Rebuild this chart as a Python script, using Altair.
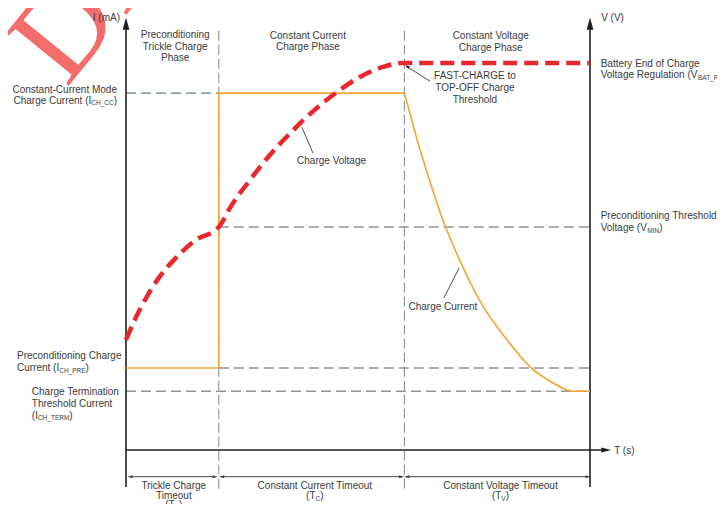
import altair as alt
import pandas as pd

# ---------------- data (abstract units: time 0..100, level 0..112) ----------------
# phase boundaries (time)
phase_t = [20, 60]
# characteristic levels
I_CC, V_BAT, V_MIN, I_PRE, I_TERM = 92.3, 100.1, 57.7, 21.2, 15.2

# charge current (step part)
cur_step_t = [0, 20, 20, 60]
cur_step_v = [I_PRE, I_PRE, I_CC, I_CC]
# charge current (constant voltage decay)
cur_dec_t = [60, 61.2, 62.9, 65.1, 68.3, 72.0, 76.3, 82.1, 87.1, 92.0, 96.3, 100]
cur_dec_v = [92.3, 87.1, 79.6, 71.0, 59.5, 48.9, 38.5, 28.5, 21.5, 17.4, 15.2, 15.2]
# charge voltage
volt_t = [0, 1.94, 4.5, 7.3, 10.6, 14.9, 20, 22.8, 26.7, 31.0, 35.6, 40.1,
          45.5, 50.4, 55.4, 59.5, 100]
volt_v = [28.5, 33.8, 39.7, 44.9, 49.5, 54.2, 57.7, 63.4, 69.8, 76.3, 82.2, 87.4,
          92.6, 96.5, 99.1, 100.1, 100.1]

# dashed reference levels
ref_y = [I_CC, V_MIN, I_PRE, I_TERM]
ref_x1 = [0, 20, 20, 0]
ref_x2 = [20, 100, 100, 100]
ref_col = ["#8fa2ae", "#8f9398", "#8f9398", "#8f9398"]

# ---------------- layout constants ----------------
KX = 4.64     # px per time unit
KY = 433 / 112  # px per level unit
FONT = "Liberation Sans"
TXT = "#3a3a3a"
BLACK = "#231f20"

AW = {' ': 278, '(': 333, ')': 333, '_': 556, '-': 333,
      'A': 667, 'B': 667, 'C': 722, 'D': 722, 'E': 667, 'F': 611, 'G': 778, 'H': 722,
      'I': 278, 'K': 667, 'L': 556, 'M': 833, 'N': 722, 'O': 778, 'P': 667, 'R': 722,
      'S': 667, 'T': 611, 'V': 667, 'a': 556, 'b': 556, 'c': 500, 'd': 556, 'e': 556,
      'f': 278, 'g': 556, 'h': 556, 'i': 222, 'l': 222, 'm': 833, 'n': 556, 'o': 556,
      'r': 333, 's': 500, 't': 278, 'u': 556, 'v': 500, 'y': 500, 'k': 500}


def tw(s, size):
    return sum(AW.get(c, 556) for c in s) * size / 1000.0


X = alt.Scale(domain=[0, 100], nice=False, zero=False)
Y = alt.Scale(domain=[0, 112], nice=False, zero=False)


def enc_xy(xf="x", yf="y"):
    return dict(x=alt.X(f"{xf}:Q", scale=X, axis=None), y=alt.Y(f"{yf}:Q", scale=Y, axis=None))


layers = []

# watermark
wm = pd.DataFrame({"x": [-12.8], "y": [93.5], "t": ["DRAFT"]})
layers.append(alt.Chart(wm).mark_text(align="left", baseline="alphabetic", angle=309,
                                      fontSize=125, font="Liberation Serif", color="#f36d6d")
              .encode(text="t:N", **enc_xy()))

# phase dividers
pdv = pd.DataFrame({"x": phase_t, "y": [-10, -10], "y2": [108.6, 108.6]})
layers.append(alt.Chart(pdv).mark_rule(color="#7f868c", strokeWidth=1, strokeDash=[10, 4])
              .encode(y2="y2:Q", **enc_xy()))

# dashed reference levels
rf = pd.DataFrame({"x": ref_x1, "x2": ref_x2, "y": ref_y, "c": ref_col})
layers.append(alt.Chart(rf).mark_rule(strokeWidth=1.6, strokeDash=[10, 5])
              .encode(x2="x2:Q", color=alt.Color("c:N", scale=None), **enc_xy()))

# axes lines
ax = pd.DataFrame({"x": [0, 100, 0], "x2": [0, 100, 102.5], "y": [-9.6, -9.6, 0],
                   "y2": [109.5, 109.5, 0]})
layers.append(alt.Chart(ax).mark_rule(color=BLACK, strokeWidth=1.6)
              .encode(x2="x2:Q", y2="y2:Q", **enc_xy()))
arr_up = pd.DataFrame({"x": [0, 100], "y": [110.3, 110.3]})
layers.append(alt.Chart(arr_up).mark_point(shape="M0,-1L0.55,1L-0.55,1Z", filled=True,
                                           size=150, color=BLACK, opacity=1)
              .encode(**enc_xy()))
arr_r = pd.DataFrame({"x": [103.5], "y": [0]})
layers.append(alt.Chart(arr_r).mark_point(shape="M1,0L-1,-0.5L-1,0.5Z", filled=True,
                                          size=100, color=BLACK, opacity=1)
              .encode(**enc_xy()))

# timeout double arrows
ta = pd.DataFrame({"x": [0.86, 20.6, 60.5], "x2": [19.2, 59.4, 99.6], "y": [-6.9] * 3})
layers.append(alt.Chart(ta).mark_rule(color="#444", strokeWidth=1)
              .encode(x2="x2:Q", **enc_xy()))
tah = pd.DataFrame({"x": [0.86, 20.6, 60.5, 19.2, 59.4, 99.6], "y": [-6.9] * 6,
                    "s": ["L", "L", "L", "R", "R", "R"]})
layers.append(alt.Chart(tah).mark_point(filled=True, size=28, color="#444", opacity=1)
              .encode(shape=alt.Shape("s:N", scale=alt.Scale(
                  domain=["L", "R"], range=["M-1,0L1,-0.55L1,0.55Z", "M1,0L-1,-0.55L-1,0.55Z"]),
                  legend=None), **enc_xy()))

# charge current
cs = pd.DataFrame({"x": cur_step_t, "y": cur_step_v, "i": range(len(cur_step_t))})
layers.append(alt.Chart(cs).mark_line(color="#f3a534", strokeWidth=1.6)
              .encode(order="i:Q", **enc_xy()))
cd = pd.DataFrame({"x": cur_dec_t, "y": cur_dec_v})
layers.append(alt.Chart(cd).mark_line(color="#f3a534", strokeWidth=1.6, interpolate="monotone")
              .encode(**enc_xy()))

# charge voltage
vd = pd.DataFrame({"x": volt_t, "y": volt_v})
layers.append(alt.Chart(vd).mark_line(color="#e8282e", strokeWidth=4.5, strokeDash=[14, 7],
                                      interpolate="monotone")
              .encode(**enc_xy()))

# leader lines
ld = pd.DataFrame({"x": [60.4, 37.9, 71.8], "y": [99.3, 83.5, 47.1],
                   "x2": [65.5, 40.3, 68.5], "y2": [95.4, 76.8, 39.3]})
layers.append(alt.Chart(ld).mark_rule(color=BLACK, strokeWidth=0.8)
              .encode(x2="x2:Q", y2="y2:Q", **enc_xy()))
lh = pd.DataFrame({"x": [60.6], "y": [99.2]})
layers.append(alt.Chart(lh).mark_point(shape="M-1,0L1,-0.6L1,0.6Z", angle=33, filled=True,
                                       size=22, color=BLACK, opacity=1)
              .encode(**enc_xy()))

# plain texts
center_txt = [
    ("Preconditioning", 10.6, 107.3), ("Trickle Charge", 10.6, 104.3), ("Phase", 10.6, 101.3),
    ("Constant Current", 39.2, 107.2), ("Charge Phase", 39.2, 104.2),
    ("Constant Voltage", 78.6, 107.1), ("Charge Phase", 78.6, 104.0),
    ("FAST-CHARGE to", 75.2, 96.8), ("TOP-OFF Charge", 75.2, 93.7), ("Threshold", 75.2, 90.5),
    ("Charge Voltage", 44.3, 74.8), ("Charge Current", 68.3, 37.1),
    ("Trickle Charge", 10.3, -9.2), ("Timeout", 10.3, -11.9),
    ("Constant Current Timeout", 40.7, -9.2), ("Constant Voltage Timeout", 80.7, -9.2),
]
left_txt = [
    ("V (V)", 102.4, 111.7), ("T (s)", 105.2, -0.3),
    ("Preconditioning Charge", -23.5, 24.2),
    ("Charge Termination", -20.3, 15.0), ("Threshold Current", -20.3, 11.9),
    ("Battery End of Charge", 102.3, 99.8), ("Preconditioning Threshold", 102.3, 60.5),
]
right_txt = [("I (mA)", -1.3, 111.7), ("Constant-Current Mode", -1.94, 93.1)]

for rows, al in [(center_txt, "center"), (left_txt, "left"), (right_txt, "right")]:
    df = pd.DataFrame(rows, columns=["t", "x", "y"])
    layers.append(alt.Chart(df).mark_text(align=al, baseline="middle", font=FONT, fontSize=10,
                                          color=TXT)
                  .encode(text="t:N", **enc_xy()))

# texts with subscripts: (pieces, anchor x, y, align)
sub_labels = [
    ([("Charge Current (I", 0), ("CH_CC", 1), (")", 0)], -1.94, 90.3, "right"),
    ([("Current (I", 0), ("CH_PRE", 1), (")", 0)], -23.5, 21.1, "left"),
    ([("(I", 0), ("CH_TERM", 1), (")", 0)], -20.3, 8.8, "left"),
    ([("Voltage Regulation (V", 0), ("BAT_REG", 1), (")", 0)], 102.3, 96.9, "left"),
    ([("Voltage (V", 0), ("MIN", 1), (")", 0)], 102.3, 57.3, "left"),
    ([("(T", 0), ("K", 1), (")", 0)], 10.3, -14.1, "center"),
    ([("(T", 0), ("C", 1), (")", 0)], 40.7, -11.9, "center"),
    ([("(T", 0), ("V", 1), (")", 0)], 80.7, -11.9, "center"),
]
rows = []
for pieces, ax0, ay, al in sub_labels:
    sizes = [10 if s == 0 else 6.5 for _, s in pieces]
    total = sum(tw(p, sz) for (p, _), sz in zip(pieces, sizes))
    start = ax0 * KX - (total if al == "right" else total / 2 if al == "center" else 0)
    cur = start
    for (p, s), sz in zip(pieces, sizes):
        rows.append({"t": p, "x": cur / KX, "y": ay - (2.5 / KY if s else 0), "sz": sz})
        cur += tw(p, sz)
sd = pd.DataFrame(rows)
layers.append(alt.Chart(sd).mark_text(align="left", baseline="middle", font=FONT, color=TXT)
              .encode(text="t:N", size=alt.Size("sz:Q", scale=None, legend=None), **enc_xy()))

chart = alt.layer(*layers).properties(
    width=464, height=433,
    autosize=alt.AutoSizeParams(type="none"),
    padding={"left": 118, "top": 9, "right": 127, "bottom": 54},
).configure_view(strokeWidth=0)

chart.save("out.html", embed_options={"renderer": "svg", "actions": False})
